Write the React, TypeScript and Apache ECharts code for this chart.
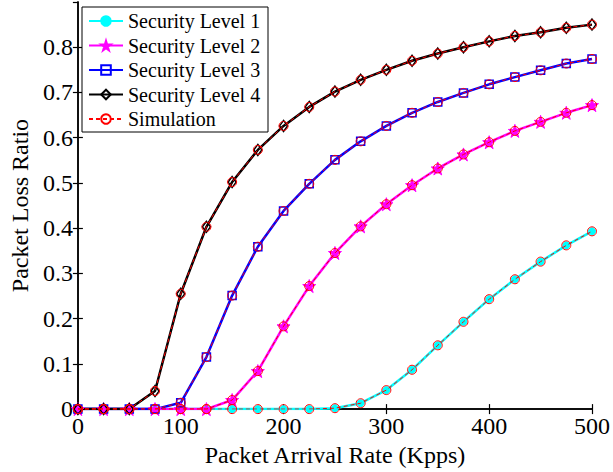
import React, { useEffect, useRef } from "react";
import * as echarts from "echarts";

// Packet arrival rate (Kpps)
const arrivalRate = [0, 25, 50, 75, 100, 125, 150, 175, 200, 225, 250, 275, 300, 325, 350, 375, 400, 425, 450, 475, 500];

// Analytical packet loss ratio per security level
const level1 = [0, 0, 0, 0, 0, 0, 0, 0, 0, 0, 0.002, 0.013, 0.042, 0.087, 0.141, 0.193, 0.243, 0.287, 0.326, 0.362, 0.393];
const level2 = [0, 0, 0, 0, 0, 0, 0.02, 0.084, 0.183, 0.272, 0.345, 0.404, 0.453, 0.495, 0.532, 0.563, 0.59, 0.615, 0.635, 0.655, 0.672];
const level3 = [0, 0, 0, 0, 0.014, 0.115, 0.251, 0.359, 0.438, 0.498, 0.551, 0.592, 0.626, 0.655, 0.679, 0.699, 0.718, 0.734, 0.749, 0.764, 0.774];
const level4 = [0, 0, 0, 0.04, 0.255, 0.403, 0.502, 0.573, 0.626, 0.668, 0.702, 0.728, 0.75, 0.77, 0.786, 0.8, 0.813, 0.825, 0.833, 0.843, 0.85];

// Simulated packet loss ratio per security level
const sim1 = [0, 0, 0, 0, 0, 0, 0, 0, 0, 0, 0.002, 0.013, 0.042, 0.087, 0.141, 0.193, 0.243, 0.287, 0.326, 0.362, 0.393];
const sim2 = [0, 0, 0, 0, 0, 0, 0.02, 0.084, 0.183, 0.272, 0.345, 0.404, 0.453, 0.495, 0.532, 0.563, 0.59, 0.615, 0.635, 0.655, 0.672];
const sim3 = [0, 0, 0, 0, 0.014, 0.115, 0.251, 0.359, 0.438, 0.498, 0.551, 0.592, 0.626, 0.655, 0.679, 0.699, 0.718, 0.734, 0.749, 0.764, 0.774];
const sim4 = [0, 0, 0, 0.04, 0.255, 0.403, 0.502, 0.573, 0.626, 0.668, 0.702, 0.728, 0.75, 0.77, 0.786, 0.8, 0.813, 0.825, 0.833, 0.843, 0.85];

const seriesNames = ["Security Level 1", "Security Level 2", "Security Level 3", "Security Level 4", "Simulation"];

const FONT = "Liberation Serif";
const STAR = "path://M50,0 L61,35 L98,35 L68,57 L79,91 L50,70 L21,91 L32,57 L2,35 L39,35 Z";

const pair = (ys: number[]) => arrivalRate.map((x, i) => [x, ys[i]]);

export default function App() {
  const ref = useRef<HTMLDivElement>(null);

  useEffect(() => {
    document.body.style.margin = "0";
    if (!ref.current) return;
    const chart = echarts.init(ref.current, undefined, { renderer: "svg" });

    const axisLine = () => ({ show: true, lineStyle: { color: "#000", width: 1.5 } });
    const tickStyle = () => ({ show: true, inside: true, length: 5, lineStyle: { color: "#000", width: 1.2 } });

    const analytic = (name: string, ys: number[], color: string, symbol: string, size: any, filled: boolean) => ({
      name,
      type: "line",
      data: pair(ys),
      xAxisIndex: 0,
      yAxisIndex: 0,
      symbol,
      symbolSize: size,
      showAllSymbol: true,
      lineStyle: { color, width: 2.5 },
      itemStyle: filled
        ? { color, borderColor: color, borderWidth: 1 }
        : { color: "rgba(0,0,0,0)", borderColor: color, borderWidth: 1.5 },
      z: 2,
    });

    const simulation = (ys: number[]) => ({
      name: "Simulation",
      type: "line",
      data: pair(ys),
      xAxisIndex: 0,
      yAxisIndex: 0,
      symbol: "circle",
      symbolSize: 9,
      showAllSymbol: true,
      lineStyle: { color: "#ff0000", width: 1, type: [4, 3] },
      itemStyle: { color: "rgba(0,0,0,0)", borderColor: "#ff0000", borderWidth: 1 },
      z: 3,
    });

    chart.setOption({
      animation: false,
      textStyle: { fontFamily: FONT },
      grid: { left: 76, right: 20, top: 2, bottom: 62 },
      // legend frame
      graphic: [
        {
          type: "rect",
          z: 3.9,
          shape: { x: 82, y: 7, width: 186, height: 125 },
          style: { fill: "#fff", stroke: "#000", lineWidth: 1 },
        },
      ],
      legend: {
        data: seriesNames,
        orient: "vertical",
        left: 82,
        top: 7,
        padding: [4, 6, 4, 6],
        itemGap: 4.5,
        itemWidth: 34,
        itemHeight: 12,
        borderWidth: 0,
        z: 4,
        textStyle: { fontFamily: FONT, fontSize: 20, color: "#000" },
      },
      xAxis: [
        {
          type: "value",
          min: 0,
          max: 500,
          interval: 100,
          name: "Packet Arrival Rate (Kpps)",
          nameLocation: "middle",
          nameGap: 29,
          nameTextStyle: { fontFamily: FONT, fontSize: 24, color: "#000" },
          axisLine: axisLine(),
          axisTick: tickStyle(),
          axisLabel: { fontFamily: FONT, fontSize: 24, color: "#000", margin: 5 },
          splitLine: { show: false },
        },
        {
          type: "value",
          position: "top",
          min: 0,
          max: 500,
          interval: 100,
          axisLine: axisLine(),
          axisTick: tickStyle(),
          axisLabel: { show: false },
          splitLine: { show: false },
        },
      ],
      yAxis: [
        {
          type: "value",
          min: 0,
          max: 0.9,
          interval: 0.1,
          name: "Packet Loss Ratio",
          nameLocation: "middle",
          nameGap: 43,
          nameTextStyle: { fontFamily: FONT, fontSize: 24, color: "#000" },
          axisLine: axisLine(),
          axisTick: tickStyle(),
          axisLabel: {
            fontFamily: FONT,
            fontSize: 24,
            color: "#000",
            margin: 5,
            showMaxLabel: false,
            formatter: (v: number) => String(Math.round(v * 10) / 10),
          },
          splitLine: { show: false },
        },
        {
          type: "value",
          position: "right",
          min: 0,
          max: 0.9,
          interval: 0.1,
          axisLine: axisLine(),
          axisTick: tickStyle(),
          axisLabel: { show: false },
          splitLine: { show: false },
        },
      ],
      series: [
        analytic(seriesNames[0], level1, "#00ffff", "circle", 7, true),
        analytic(seriesNames[1], level2, "#ff00ff", STAR, 13, true),
        analytic(seriesNames[2], level3, "#0000ff", "rect", 8, false),
        analytic(seriesNames[3], level4, "#000000", "diamond", [8, 11], false),
        simulation(sim1),
        simulation(sim2),
        simulation(sim3),
        simulation(sim4),
      ],
    });

    return () => chart.dispose();
  }, []);

  return <div ref={ref} style={{ width: 613, height: 472, background: "#fff" }} />;
}
